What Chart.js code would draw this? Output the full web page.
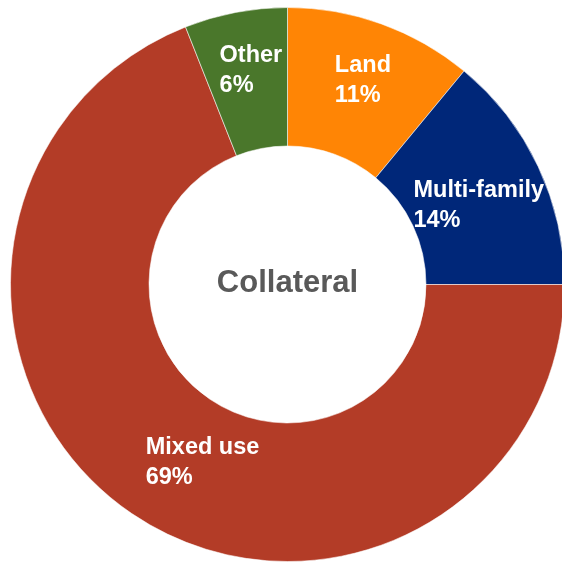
<!DOCTYPE html>
<html>
<head>
<meta charset="utf-8">
<script src="https://cdn.jsdelivr.net/npm/chart.js@4.4.0/dist/chart.umd.min.js"></script>
<style>
    html, body { margin: 0; padding: 0; background: #fff; overflow: hidden; }
    #wrap { position: absolute; left: 0; top: 0; width: 600px; height: 563px; }
</style>
</head>
<body>
<div id="wrap"><canvas id="collateralChart" width="600" height="563"></canvas></div>
<script>
const categories = ["Land", "Multi-family", "Mixed use", "Other"];
const shares = [11, 14, 69, 6];
const sliceColors = ["#FF8505", "#002779", "#B33C27", "#4A772B"];
const centerTitle = "Collateral";

// label placement relative to each slice's centroid
const labelOffsets = [
    { dx: -23, dy: -17 },
    { dx: -62, dy: 1 },
    { dx: -25, dy: -2 },
    { dx: -29, dy: -18 }
];

const sliceLabels = {
    id: "sliceLabels",
    afterDatasetsDraw(chart) {
        const ctx = chart.ctx;
        const arcs = chart.getDatasetMeta(0).data;
        ctx.save();
        ctx.fillStyle = "#ffffff";
        ctx.font = "bold 23.5px 'Liberation Sans', Arial, sans-serif";
        ctx.textAlign = "left";
        ctx.textBaseline = "alphabetic";
        arcs.forEach((arc, i) => {
            const pos = arc.tooltipPosition();
            const x = pos.x + labelOffsets[i].dx;
            const y = pos.y + labelOffsets[i].dy;
            ctx.fillText(categories[i], x, y);
            ctx.fillText(shares[i] + "%", x, y + 29.5);
        });

        // title in the hole
        const c = arcs[0];
        ctx.fillStyle = "#595959";
        ctx.font = "bold 31px 'Liberation Sans', Arial, sans-serif";
        ctx.textAlign = "center";
        ctx.fillText(centerTitle, c.x, c.y + 7);
        ctx.restore();
    }
};

new Chart(document.getElementById("collateralChart").getContext("2d"), {
    type: "doughnut",
    data: {
        labels: categories,
        datasets: [{
            data: shares,
            backgroundColor: sliceColors,
            borderColor: "rgba(255,255,255,0.55)",
            borderWidth: 1
        }]
    },
    options: {
        responsive: false,
        animation: false,
        cutout: "50%",
        layout: { padding: { left: 10, top: 7, right: 35, bottom: 1 } },
        plugins: {
            legend: { display: false },
            tooltip: { enabled: false }
        }
    },
    plugins: [sliceLabels]
});
</script>
</body>
</html>
